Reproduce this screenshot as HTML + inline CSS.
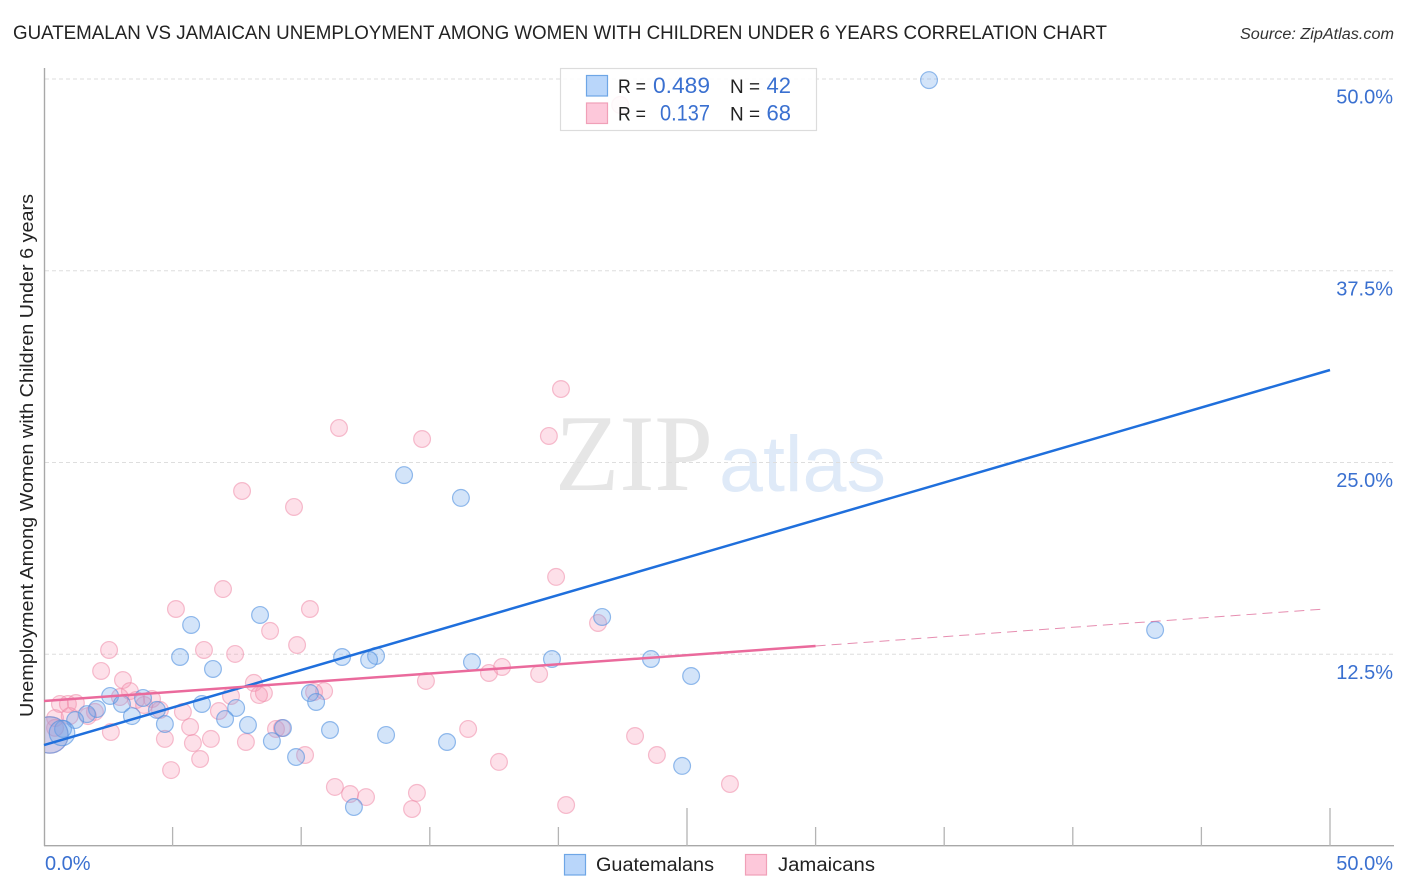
<!DOCTYPE html>
<html lang="en">
<head>
<meta charset="utf-8">
<title>Guatemalan vs Jamaican Unemployment Correlation Chart</title>
<style>
html,body{margin:0;padding:0;background:#fff;width:1406px;height:892px;overflow:hidden}
svg{display:block;font-family:"Liberation Sans",sans-serif}
</style>
</head>
<body>
<svg id="chart" width="1406" height="892" viewBox="0 0 1406 892">
<defs><clipPath id="plot-clip"><rect x="45" y="60" width="1349" height="786"/></clipPath></defs>
<text x="13" y="39" font-size="19" fill="#222" textLength="1094" lengthAdjust="spacingAndGlyphs">GUATEMALAN VS JAMAICAN UNEMPLOYMENT AMONG WOMEN WITH CHILDREN UNDER 6 YEARS CORRELATION CHART</text>
<text x="1394" y="39" font-size="15.5" font-style="italic" fill="#333" text-anchor="end" textLength="154" lengthAdjust="spacingAndGlyphs">Source: ZipAtlas.com</text>
<text x="555" y="490" font-size="109" font-family="'Liberation Serif',serif" fill="#e6e6e6" textLength="158" lengthAdjust="spacingAndGlyphs">ZIP</text>
<text x="719" y="491" font-size="79" fill="#dfeaf8" textLength="167" lengthAdjust="spacingAndGlyphs">atlas</text>
<g id="grid"></g>
<g id="axes"></g>
<g id="points-jam" clip-path="url(#plot-clip)"></g>
<g id="points-gua" clip-path="url(#plot-clip)"></g>
<g id="trends"></g>
<text transform="translate(33,717) rotate(-90)" font-size="18.5" fill="#222" textLength="523" lengthAdjust="spacingAndGlyphs">Unemployment Among Women with Children Under 6 years</text>

<g>
<rect x="560.5" y="68.5" width="256" height="62" fill="#fff" fill-opacity="0.86" stroke="#dcdcdc" stroke-width="1.2"/>
<rect x="586.5" y="75.5" width="21" height="20.5" fill="#b9d6fa" stroke="#6ea6e6" stroke-width="1.2"/>
<rect x="586.5" y="103" width="21" height="20.5" fill="#fdc8da" stroke="#f0a0b8" stroke-width="1.2"/>
<text x="618" y="93" font-size="19.5" fill="#222" textLength="28" lengthAdjust="spacingAndGlyphs">R =</text>
<text x="653" y="93" font-size="22" fill="#3a70d0" textLength="57" lengthAdjust="spacingAndGlyphs">0.489</text>
<text x="730" y="93" font-size="19.5" fill="#222" textLength="30" lengthAdjust="spacingAndGlyphs">N =</text>
<text x="791" y="93" font-size="22" fill="#3a70d0" text-anchor="end">42</text>
<text x="618" y="120.5" font-size="19.5" fill="#222" textLength="28" lengthAdjust="spacingAndGlyphs">R =</text>
<text x="660" y="120.5" font-size="22" fill="#3a70d0" textLength="50" lengthAdjust="spacingAndGlyphs">0.137</text>
<text x="730" y="120.5" font-size="19.5" fill="#222" textLength="30" lengthAdjust="spacingAndGlyphs">N =</text>
<text x="791" y="120.5" font-size="22" fill="#3a70d0" text-anchor="end">68</text>
</g>

<g>
<rect x="564.5" y="854.5" width="21" height="20.5" fill="#b9d6fa" stroke="#6ea6e6" stroke-width="1.2"/>
<text x="596" y="871" font-size="19" fill="#222" textLength="118" lengthAdjust="spacingAndGlyphs">Guatemalans</text>
<rect x="745.5" y="854.5" width="21" height="20.5" fill="#fdc8da" stroke="#f0a0b8" stroke-width="1.2"/>
<text x="778" y="871" font-size="19" fill="#222" textLength="97" lengthAdjust="spacingAndGlyphs">Jamaicans</text>
</g>
</svg>
<script>
const xTicks = [0, 5, 10, 15, 20, 25, 30, 35, 40, 45, 50];
const xMajorTicks = [0, 25, 50];
const xTickLabels = ["0.0%", "50.0%"];
const xLabelValues = [0, 50];
const yTicks = [12.5, 25, 37.5, 50];
const yTickLabels = ["12.5%", "25.0%", "37.5%", "50.0%"];

const guatemalansX = [34.41,14.0,16.21,5.72,8.40,21.70,43.2,5.29,11.59,12.91,12.64,16.64,19.75,23.60,6.57,25.16,2.57,10.34,10.58,3.85,6.14,3.03,2.06,7.47,1.67,4.39,3.42,7.04,1.21,4.70,7.93,9.29,11.12,0.74,13.30,8.86,15.67,9.80,24.81,12.05,0.23,0.70];
const guatemalansY = [49.93,24.18,22.69,14.41,15.06,14.93,14.08,12.32,12.32,12.39,12.13,11.99,12.19,12.19,11.54,11.08,9.78,9.97,9.39,9.65,9.26,9.26,8.93,9.0,8.6,8.87,8.47,8.28,8.21,7.95,7.89,7.69,7.56,7.63,7.24,6.84,6.78,5.80,5.22,2.54,7.24,7.37];
const guatemalansWeight = [1,1,1,1,1,1,1,1,1,1,1,1,1,1,1,1,1,1,1,1,1,1,1,1,1,1,1,1,1,1,1,1,1,1,1,1,1,1,1,1,4.7,2.3];

const jamaicansX = [22.40,20.10,11.47,14.70,19.63,7.70,9.72,19.91,6.96,5.13,10.34,21.54,8.79,9.84,2.53,6.22,7.43,2.22,3.07,17.81,17.30,19.25,14.85,8.16,3.34,8.55,8.36,10.89,10.50,7.27,2.95,4.20,3.58,0.62,0.93,1.24,3.89,4.51,5.40,6.80,1.98,1.71,0.43,16.49,5.68,9.02,2.60,22.98,4.70,6.49,5.79,7.85,10.15,23.83,6.07,17.69,4.94,26.67,11.31,11.90,14.50,12.52,20.30,14.31,0.23,9.25,0.43,1.0];
const jamaicansY = [48.31,29.79,27.25,26.53,26.73,23.14,22.10,17.54,16.75,15.45,15.45,14.54,14.02,13.10,12.78,12.78,12.52,11.41,10.82,11.67,11.28,11.21,10.76,10.63,10.10,9.97,9.84,10.10,10.04,9.78,9.71,9.58,9.52,9.26,9.26,9.32,9.19,8.87,8.74,8.80,8.74,8.47,8.34,7.63,7.76,7.63,7.43,7.17,6.98,6.98,6.71,6.78,5.93,5.93,5.67,5.48,4.95,4.04,3.85,3.39,3.46,3.19,2.67,2.41,7.24,7.69,7.7,8.47];
const jamaicansWeight = [1,1,1,1,1,1,1,1,1,1,1,1,1,1,1,1,1,1,1,1,1,1,1,1,1,1,1,1,1,1,1,1,1,1,1,1,1,1,1,1,1,1,1,1,1,1,1,1,1,1,1,1,1,1,1,1,1,1,1,1,1,1,1,1,4.7,1,1,1];

const guatemalansTrendX = [0, 50];
const guatemalansTrendY = [6.58, 31.03];
const jamaicansTrendX = [0, 30];
const jamaicansTrendY = [9.45, 13.04];
const jamaicansForecastX = [30, 49.8];
const jamaicansForecastY = [13.04, 15.45];

const NS = "http://www.w3.org/2000/svg";
function xScale(v) { return 44 + v * 25.72; }
function yScale(v) { return 846 - v * 15.34; }
function rScale(w) { return 8.4 * Math.sqrt(w); }
function make(tag, attrs, parent) {
  const el = document.createElementNS(NS, tag);
  for (const k in attrs) el.setAttribute(k, attrs[k]);
  parent.appendChild(el);
  return el;
}

const grid = document.getElementById("grid");
const axes = document.getElementById("axes");
yTicks.forEach(function (t, i) {
  const line = make("line", {x1: 45, x2: 1394, y1: yScale(t), y2: yScale(t), stroke: "#dedede", "stroke-width": 1, "stroke-dasharray": "4 3"}, grid);
  
  
  const label = make("text", {x: 1393, y: yScale(t) + 24.5, "font-size": 20, fill: "#3a70d0", "text-anchor": "end"}, axes);
  label.textContent = yTickLabels[i];
  
  
});
const yAxis = make("line", {x1: 44.5, x2: 44.5, y1: 68, y2: 846, stroke: "#a8a8a8", "stroke-width": 1.4}, axes);


const xAxis = make("line", {x1: 44, x2: 1394, y1: 845.7, y2: 845.7, stroke: "#a8a8a8", "stroke-width": 1.4}, axes);


xTicks.forEach(function (t) {
  if (t === 0) return;
  const top = xMajorTicks.indexOf(t) >= 0 ? 808 : 827;
  const tick = make("line", {x1: xScale(t), x2: xScale(t), y1: top, y2: 846, stroke: "#b4b4b4", "stroke-width": 1.3}, axes);
  
  
});
xLabelValues.forEach(function (v, i) {
  const label = make("text", {x: i === 0 ? 45 : 1393, y: 870, "font-size": 20, fill: "#3a70d0", "text-anchor": i === 0 ? "start" : "end"}, axes);
  label.textContent = xTickLabels[i];
  
  
});

const jamGroup = document.getElementById("points-jam");
jamaicansX.forEach(function (x, i) {
  const dot = make("circle", {cx: xScale(x), cy: yScale(jamaicansY[i]), r: rScale(jamaicansWeight[i]), fill: "#f78fb0", "fill-opacity": 0.28, stroke: "#ee8aa8", "stroke-opacity": 0.55, "stroke-width": 1.2}, jamGroup);
  
  
});
const guaGroup = document.getElementById("points-gua");
guatemalansX.forEach(function (x, i) {
  const dot = make("circle", {cx: xScale(x), cy: yScale(guatemalansY[i]), r: rScale(guatemalansWeight[i]), fill: "#6ea6ec", "fill-opacity": 0.3, stroke: "#4f8fe0", "stroke-opacity": 0.6, "stroke-width": 1.2}, guaGroup);
  
  
});

const trends = document.getElementById("trends");
const forecast = make("line", {x1: xScale(jamaicansForecastX[0]), y1: yScale(jamaicansForecastY[0]), x2: xScale(jamaicansForecastX[1]), y2: yScale(jamaicansForecastY[1]), stroke: "#e0709c", "stroke-width": 1, "stroke-dasharray": "10 6", "stroke-opacity": 0.8}, trends);


const gTrend = make("line", {x1: xScale(guatemalansTrendX[0]), y1: yScale(guatemalansTrendY[0]), x2: xScale(guatemalansTrendX[1]), y2: yScale(guatemalansTrendY[1]), stroke: "#1f6fdc", "stroke-width": 2.5}, trends);


const jTrend = make("line", {x1: xScale(jamaicansTrendX[0]), y1: yScale(jamaicansTrendY[0]), x2: xScale(jamaicansTrendX[1]), y2: yScale(jamaicansTrendY[1]), stroke: "#ea6a9c", "stroke-width": 2.5}, trends);


</script>
</body>
</html>
